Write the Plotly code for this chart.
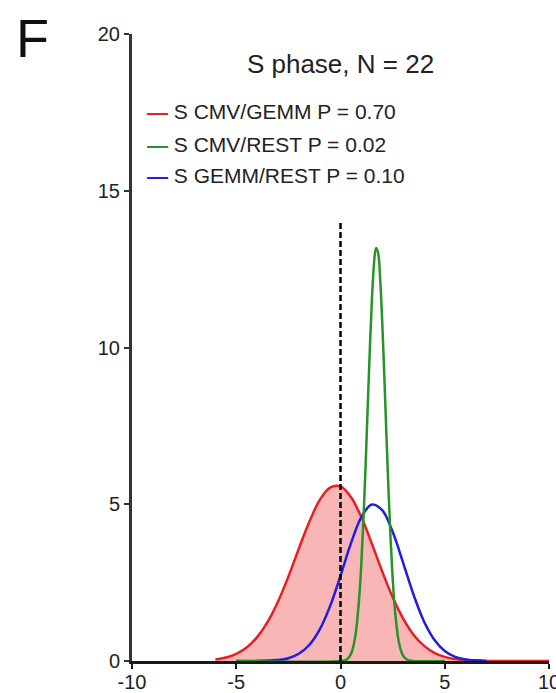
import plotly.graph_objects as go

# ---- data ----
red_x = [-6, -5.5, -5, -4.5, -4, -3.5, -3, -2.5, -2, -1.5, -1, -0.5, 0, 0.5, 1, 1.5, 2, 2.5, 3, 3.5, 4, 4.5, 5, 5.5, 6, 7, 8, 10]
red_y = [0.05, 0.11, 0.23, 0.43, 0.76, 1.24, 1.89, 2.69, 3.58, 4.43, 5.13, 5.53, 5.57, 5.23, 4.59, 3.75, 2.86, 2.04, 1.36, 0.84, 0.49, 0.26, 0.13, 0.06, 0.03, 0.0, 0.0, 0.0]

green_x = [-5, 0, 0.3, 0.5, 0.7, 0.9, 1.0, 1.1, 1.2, 1.3, 1.4, 1.5, 1.6, 1.7, 1.8, 1.9, 2.0, 2.1, 2.2, 2.3, 2.4, 2.5, 2.6, 2.8, 3.0, 3.2, 3.5, 5]
green_y = [0.0, 0.0, 0.05, 0.22, 0.75, 2.05, 3.12, 4.51, 6.17, 8.01, 9.83, 11.44, 12.61, 13.17, 13.03, 12.21, 10.84, 9.12, 7.26, 5.48, 3.92, 2.66, 1.70, 0.60, 0.17, 0.04, 0.0, 0.0]

blue_x = [-5, -3, -2.5, -2, -1.5, -1, -0.5, 0, 0.5, 1, 1.5, 2, 2.5, 3, 3.5, 4, 4.5, 5, 5.5, 6, 6.5, 7]
blue_y = [0.0, 0.03, 0.09, 0.23, 0.51, 1.00, 1.75, 2.72, 3.75, 4.59, 4.99, 4.81, 4.12, 3.14, 2.12, 1.27, 0.68, 0.32, 0.13, 0.05, 0.02, 0.0]

zero_line_x = [0, 0]
zero_line_y = [0, 14]

series_names = ["S CMV/GEMM P = 0.70", "S CMV/REST P = 0.02", "S GEMM/REST P = 0.10"]
series_colors = ["rgb(232,30,36)", "rgb(38,148,38)", "rgb(30,30,225)"]
fill_color = "rgb(249,182,182)"

x_ticks = [-10, -5, 0, 5, 10]
x_tick_labels = ["-10", "-5", "0", "5", "10"]
y_ticks = [0, 5, 10, 15, 20]
y_tick_labels = ["0", "5", "10", "15", "20"]
title_text = "S phase, N = 22"
panel_label = "F"

FONT = "Liberation Sans, Arial, sans-serif"
TXT = "#222222"

fig = go.Figure()

fig.add_trace(go.Scatter(x=red_x, y=red_y, mode="lines", name=series_names[0],
                         line=dict(color=series_colors[0], width=2.5, shape="spline"),
                         fill="tozeroy", fillcolor=fill_color, showlegend=False))
fig.add_trace(go.Scatter(x=blue_x, y=blue_y, mode="lines", name=series_names[2],
                         line=dict(color=series_colors[2], width=2.5, shape="spline"),
                         showlegend=False))
fig.add_trace(go.Scatter(x=green_x, y=green_y, mode="lines", name=series_names[1],
                         line=dict(color=series_colors[1], width=2.5, shape="spline"),
                         showlegend=False))
fig.add_trace(go.Scatter(x=zero_line_x, y=zero_line_y, mode="lines",
                         line=dict(color="black", width=2.5, dash="6px,3px"),
                         showlegend=False))

# legend drawn as text entries
legend_y = [0.876, 0.823, 0.774]
for name, col, ly in zip(series_names, series_colors, legend_y):
    fig.add_annotation(xref="paper", yref="paper", x=0.031, y=ly, xanchor="left", yanchor="middle",
                       text=f"<b><span style='color:{col}'>—</span></b> {name}", showarrow=False,
                       font=dict(family=FONT, size=21, color=TXT))

fig.add_annotation(xref="paper", yref="paper", x=-0.283, y=0.994, xanchor="left", yanchor="middle",
                   text=panel_label, showarrow=False, font=dict(family=FONT, size=54, color="#111"))

fig.update_layout(
    width=556, height=693,
    margin=dict(l=132, r=7, t=34, b=32),
    paper_bgcolor="white", plot_bgcolor="white",
    title=dict(text=title_text, x=0.5, xref="paper", y=1 - 64 / 693, yref="container",
               xanchor="center", yanchor="middle", font=dict(family=FONT, size=26, color=TXT)),
    showlegend=False,
)
fig.update_xaxes(range=[-10, 10], tickvals=x_ticks, ticktext=x_tick_labels, showgrid=False, zeroline=False,
                 automargin=False, ticklabeloverflow="allow", ticklabelstandoff=-4,
                 showline=True, linecolor="#1a1a1a", linewidth=3, ticks="outside", ticklen=5,
                 tickwidth=2, tickcolor="#1a1a1a", tickfont=dict(family=FONT, size=20, color=TXT))
fig.update_yaxes(range=[0, 20], tickvals=y_ticks, ticktext=y_tick_labels, showgrid=False, zeroline=False,
                 automargin=False,
                 showline=True, linecolor="#333333", linewidth=3, ticks="outside", ticklen=5,
                 tickwidth=2, tickcolor="#333333", tickfont=dict(family=FONT, size=20, color=TXT))

fig.write_html("out.html")
